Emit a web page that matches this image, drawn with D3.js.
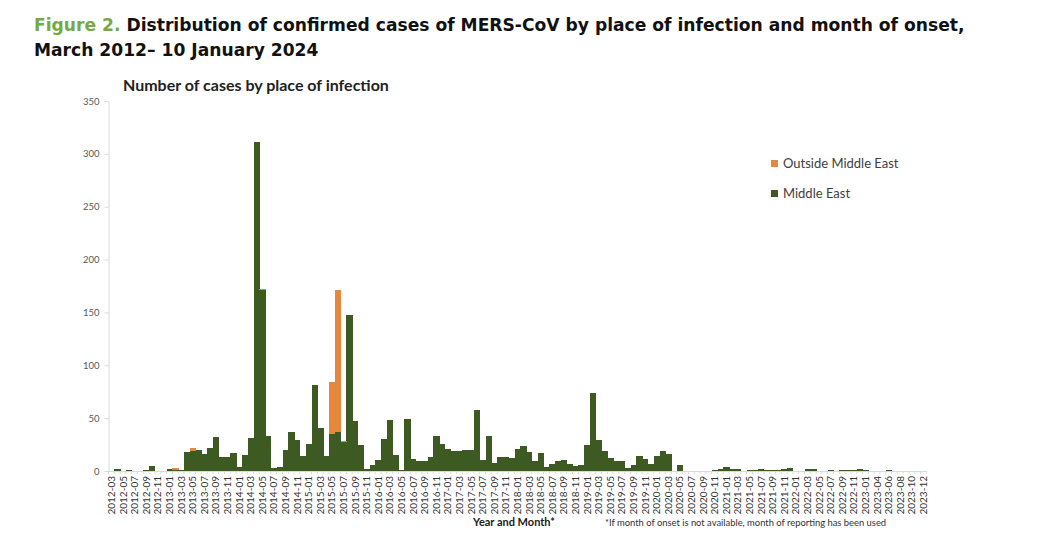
<!DOCTYPE html>
<html>
<head>
<meta charset="utf-8">
<script src="https://cdn.jsdelivr.net/npm/d3@7/dist/d3.min.js"></script>
<style>
  body { margin: 0; background: #fff; }
  svg { display: block; }
</style>
</head>
<body>
<svg id="chart"></svg>
<script>
// categories on the x axis (the source chart has no 2023-03 column)
const months = [
  "2012-03","2012-04","2012-05","2012-06","2012-07","2012-08","2012-09","2012-10","2012-11","2012-12",
  "2013-01","2013-02","2013-03","2013-04","2013-05","2013-06","2013-07","2013-08","2013-09","2013-10","2013-11","2013-12",
  "2014-01","2014-02","2014-03","2014-04","2014-05","2014-06","2014-07","2014-08","2014-09","2014-10","2014-11","2014-12",
  "2015-01","2015-02","2015-03","2015-04","2015-05","2015-06","2015-07","2015-08","2015-09","2015-10","2015-11","2015-12",
  "2016-01","2016-02","2016-03","2016-04","2016-05","2016-06","2016-07","2016-08","2016-09","2016-10","2016-11","2016-12",
  "2017-01","2017-02","2017-03","2017-04","2017-05","2017-06","2017-07","2017-08","2017-09","2017-10","2017-11","2017-12",
  "2018-01","2018-02","2018-03","2018-04","2018-05","2018-06","2018-07","2018-08","2018-09","2018-10","2018-11","2018-12",
  "2019-01","2019-02","2019-03","2019-04","2019-05","2019-06","2019-07","2019-08","2019-09","2019-10","2019-11","2019-12",
  "2020-01","2020-02","2020-03","2020-04","2020-05","2020-06","2020-07","2020-08","2020-09","2020-10","2020-11","2020-12",
  "2021-01","2021-02","2021-03","2021-04","2021-05","2021-06","2021-07","2021-08","2021-09","2021-10","2021-11","2021-12",
  "2022-01","2022-02","2022-03","2022-04","2022-05","2022-06","2022-07","2022-08","2022-09","2022-10","2022-11","2022-12",
  "2023-01","2023-02","2023-04","2023-05","2023-06","2023-07","2023-08","2023-09","2023-10","2023-11","2023-12"
];

// cases infected in the Middle East
const middleEast = [
  0,2,0,1,0,0,1,5,0,0,
  2,1,1,18,19,20,16,22,32,13,13,17,
  4,15,31,311,171,33,3,4,20,37,29,14,
  26,81,41,14,35,37,27,148,47,25,2,6,
  10,30,48,15,1,49,11,9,9,13,33,26,
  21,19,19,20,20,58,10,33,8,13,13,12,
  21,24,18,9,17,4,7,9,10,7,5,6,
  25,74,29,19,12,9,9,3,6,14,11,7,
  14,19,16,0,6,0,0,0,0,0,1,2,
  4,2,2,0,1,1,2,1,1,1,2,3,
  0,0,2,2,0,0,1,0,1,1,1,2,
  1,0,0,0,1,0,0,0,0,0,0
];

// cases infected outside the Middle East
const outsideME = [
  0,0,0,0,0,0,0,0,0,0,
  0,2,0,0,3,0,0,0,0,0,0,0,
  0,0,0,0,1,0,0,0,0,0,0,0,
  0,0,0,0,49,134,1,0,0,0,0,0,
  0,0,0,0,0,0,0,0,0,0,0,0,
  0,0,0,0,0,0,0,0,0,0,0,0,
  0,0,0,0,0,0,0,0,0,0,0,0,
  0,0,0,0,0,0,0,0,0,0,0,0,
  0,0,0,0,0,0,0,0,0,0,0,0,
  0,0,0,0,0,0,0,0,0,0,0,0,
  0,0,0,0,0,0,0,0,0,0,0,0,
  0,0,0,0,0,0,0,0,0,0,0
];

const yTicks = [0, 50, 100, 150, 200, 250, 300, 350];
const seriesNames = ["Middle East", "Outside Middle East"];

// layout
const W = 1039, H = 548;
const plot = {left: 108.5, right: 926.3, top: 101, bottom: 471};
const colours = {"Middle East": "#3e5a23", "Outside Middle East": "#e5873d"};
const txtFont = "Lato, 'Open Sans', sans-serif";

const svg = d3.select("#chart").attr("width", W).attr("height", H);

// title
const title = svg.append("text")
    .attr("x", 34).attr("y", 31)
    .style("font-family", "'DejaVu Sans', Verdana, sans-serif")
    .style("font-weight", "bold")
    .style("font-size", "18px");
title.append("tspan").attr("fill", "#76a93f").text("Figure 2. ");
title.append("tspan").attr("fill", "#111").text("Distribution of confirmed cases of MERS-CoV by place of infection and month of onset,");
// squeeze title to the width it has in the original
let tw = title.node().getComputedTextLength();
const titleSize = 18 * 931 / tw;
title.style("font-size", titleSize + "px");
svg.append("text")
    .attr("x", 34).attr("y", 56)
    .attr("fill", "#111")
    .style("font-family", "'DejaVu Sans', Verdana, sans-serif")
    .style("font-weight", "bold")
    .style("font-size", titleSize + "px")
    .text("March 2012\u2013 10 January 2024");

// chart heading
svg.append("text")
    .attr("x", 123).attr("y", 91)
    .attr("fill", "#222")
    .style("font-family", txtFont)
    .style("font-weight", "bold")
    .style("font-size", "16px")
    .text("Number of cases by place of infection");

// table for the stack
const table = months.map(function(m, i) {
    return {month: m, "Middle East": middleEast[i], "Outside Middle East": outsideME[i]};
});
const stacked = d3.stack().keys(seriesNames)(table);

// scales
const x = d3.scaleBand()
    .domain(months)
    .range([plot.left, plot.right])
    .padding(0);
const y = d3.scaleLinear()
    .domain([0, 350])
    .range([plot.bottom, plot.top]);

// y axis
const yAxis = svg.append("g")
    .attr("transform", "translate(" + plot.left + ",0)")
    .call(d3.axisLeft(y).tickValues(yTicks).tickSize(4).tickSizeOuter(0).tickPadding(5));
yAxis.select(".domain").attr("stroke", "#d9d9d9");
yAxis.selectAll(".tick line").attr("stroke", "#d9d9d9");
yAxis.selectAll(".tick text")
    .attr("fill", "#595959")
    .style("font-family", txtFont)
    .style("font-size", "9.5px");

// bars
svg.append("g")
    .attr("shape-rendering", "crispEdges")
    .selectAll("g")
    .data(stacked)
    .enter()
    .append("g")
    .attr("fill", function(d) { return colours[d.key]; })
    .selectAll("rect")
    .data(function(d) { return d; })
    .enter()
    .append("rect")
    .attr("x", function(d) { return x(d.data.month); })
    .attr("y", function(d) { return y(d[1]); })
    .attr("width", x.bandwidth() + 0.5)
    .attr("height", function(d) { return y(d[0]) - y(d[1]); });

// x axis, labels on every other month
const xAxis = svg.append("g")
    .attr("transform", "translate(0," + plot.bottom + ")")
    .call(d3.axisBottom(x)
        .tickValues(months.filter(function(m, i) { return i % 2 === 0; }))
        .tickSize(0)
        .tickSizeOuter(0));
xAxis.select(".domain").attr("stroke", "#d9d9d9");
xAxis.selectAll(".tick text")
    .attr("transform", "rotate(-90)")
    .attr("x", -5)
    .attr("y", 0)
    .attr("dy", "0.35em")
    .style("text-anchor", "end")
    .attr("fill", "#333")
    .style("font-family", txtFont)
    .style("font-size", "10px");

// small tick marks between the categories
svg.append("g")
    .selectAll("line")
    .data(months.concat(["end"]))
    .enter()
    .append("line")
    .attr("x1", function(d, i) { return i < months.length ? x(d) : plot.right; })
    .attr("x2", function(d, i) { return i < months.length ? x(d) : plot.right; })
    .attr("y1", plot.bottom)
    .attr("y2", plot.bottom + 3)
    .attr("stroke", "#d9d9d9");

// legend
const legendItems = ["Outside Middle East", "Middle East"];
const legend = svg.append("g")
    .selectAll("g")
    .data(legendItems)
    .enter()
    .append("g")
    .attr("transform", function(d, i) { return "translate(771," + (160 + i * 30) + ")"; });
legend.append("rect")
    .attr("width", 7).attr("height", 7)
    .attr("fill", function(d) { return colours[d]; });
legend.append("text")
    .attr("x", 12).attr("y", 7.5)
    .attr("fill", "#404040")
    .style("font-family", txtFont)
    .style("font-size", "13px")
    .text(function(d) { return d; });

// axis title and footnote
svg.append("text")
    .attr("x", 473).attr("y", 526)
    .attr("fill", "#222")
    .style("font-family", txtFont)
    .style("font-weight", "bold")
    .style("font-size", "11px")
    .text("Year and Month*");
svg.append("text")
    .attr("x", 605).attr("y", 526)
    .attr("fill", "#333")
    .style("font-family", txtFont)
    .style("font-size", "9.4px")
    .text("*If month of onset is not available, month of reporting has been used");
</script>
</body>
</html>
